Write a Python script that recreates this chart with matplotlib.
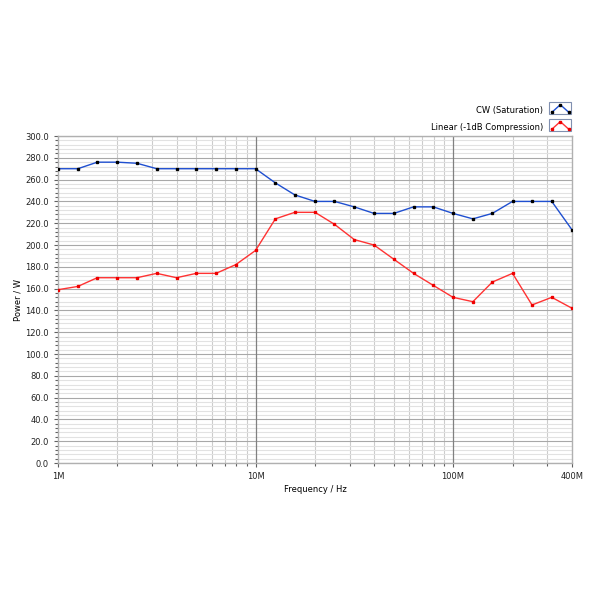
import numpy as np
import matplotlib.pyplot as plt
from matplotlib.ticker import MultipleLocator, FixedLocator, NullFormatter
from matplotlib.legend_handler import HandlerBase
from matplotlib.patches import Rectangle
from matplotlib.lines import Line2D

# Frequency (MHz), 10 points per decade, 1M .. 400M
freq_mhz = [1, 1.26, 1.58, 2, 2.51, 3.16, 3.98, 5.01, 6.31, 7.94,
            10, 12.6, 15.8, 20, 25.1, 31.6, 39.8, 50.1, 63.1, 79.4,
            100, 126, 158, 200, 251, 316, 400]

# Output power (W)
cw_sat = [270, 270, 276, 276, 275, 270, 270, 270, 270, 270,
          270, 257, 246, 240, 240, 235, 229, 229, 235, 235,
          229, 224, 229, 240, 240, 240, 214]
linear_1db = [159, 162, 170, 170, 170, 174, 170, 174, 174, 182,
              195, 224, 230, 230, 219, 205, 200, 187, 174, 163,
              152, 148, 166, 174, 145, 152, 142]

xticks = [1, 10, 100, 400]
xticklabels = ["1M", "10M", "100M", "400M"]


class BoxChevron(HandlerBase):
    # little framed icon with a peaked line, like the original legend
    def create_artists(self, legend, orig, xd, yd, w, h, fontsize, trans):
        box = Rectangle((xd, yd - 0.3 * h), w, 1.6 * h, fc='white',
                        ec='#8090b0', lw=0.8, transform=trans)
        xs = [xd + 0.1 * w, xd + 0.5 * w, xd + 0.9 * w]
        ys = [yd - 0.05 * h, yd + 1.0 * h, yd - 0.05 * h]
        ln = Line2D(xs, ys, color=orig.get_color(), lw=1.0, marker='s', ms=1.5,
                    mfc=orig.get_markerfacecolor(), mec=orig.get_markeredgecolor(),
                    transform=trans)
        return [box, ln]


plt.rcParams['font.family'] = 'DejaVu Sans'
fig = plt.figure(figsize=(6, 6), dpi=100)
ax = fig.add_axes([0.0967, 0.2283, 0.8566, 0.545])
ax.set_axisbelow(True)

ax.plot(freq_mhz, cw_sat, color='#1f4fd0', lw=1.0, marker='s', ms=2,
        mfc='black', mec='black', label='CW (Saturation)', zorder=3)
ax.plot(freq_mhz, linear_1db, color='#ff3333', lw=1.0, marker='s', ms=2,
        mfc='#ee0000', mec='#ee0000', label='Linear (-1dB Compression)', zorder=3)

ax.set_xscale('log')
ax.set_xlim(1, 400)
ax.set_ylim(0, 300)

minor_x = [m * d for d in (1, 10, 100) for m in range(2, 10) if m * d < 400]
ax.xaxis.set_major_locator(FixedLocator(xticks))
ax.set_xticklabels(xticklabels)
ax.xaxis.set_minor_locator(FixedLocator(minor_x))
ax.xaxis.set_minor_formatter(NullFormatter())

ax.yaxis.set_major_locator(MultipleLocator(20))
ax.yaxis.set_minor_locator(MultipleLocator(4))
ax.yaxis.set_major_formatter(lambda v, p: f"{v:.1f}")

ax.grid(which='minor', axis='y', color='#e2e2e2', lw=0.8)
ax.grid(which='minor', axis='x', color='#cccccc', lw=0.8)
ax.grid(which='major', axis='y', color='#a8a8a8', lw=0.8)
for xv in xticks[1:3]:
    ax.axvline(xv, color='#808080', lw=0.9, zorder=1)

ax.tick_params(which='both', labelsize=6, colors='#606060', labelcolor='#222222',
               direction='out', length=3, width=0.8)
ax.tick_params(which='minor', length=2)
for s in ax.spines.values():
    s.set_color('#b0b0b0')
    s.set_linewidth(1.0)

ax.set_xlabel("Frequency / Hz", fontsize=6, labelpad=3)
ax.set_ylabel("Power / W", fontsize=6, labelpad=2)

ax.legend(loc='lower right', bbox_to_anchor=(1.0, 1.01), frameon=False,
          markerfirst=False, fontsize=6, handlelength=2.6, handleheight=1.0,
          labelspacing=0.95, borderaxespad=0.0, handletextpad=0.8,
          borderpad=0.1, handler_map={Line2D: BoxChevron()})

plt.savefig("out.png", dpi=100)
plt.close()
